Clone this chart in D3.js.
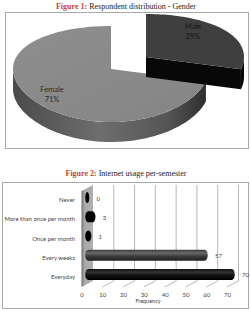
<!DOCTYPE html>
<html>
<head>
<meta charset="utf-8">
<style>
    body { margin: 0; background: #fff; }
    text.title { font-family: "Liberation Serif", "DejaVu Serif", serif; font-size: 8px; fill: #222; }
    text.title tspan.fig { fill: #c4482b; font-weight: bold; }
    text.pie_label { font-family: Lato, "Open Sans", sans-serif; font-size: 7.5px; text-anchor: middle; }
    text.cat { font-family: Lato, "Open Sans", sans-serif; font-size: 6px; fill: #444; text-anchor: end; }
    .x_axis text { font-family: Lato, "Open Sans", sans-serif; font-size: 6px; fill: #444; }
    text.val { font-family: Lato, "Open Sans", sans-serif; font-size: 6px; fill: #444; }
</style>
</head>
<body>
<svg width="251" height="313" id="chart"></svg>
<script src="https://cdn.jsdelivr.net/npm/d3@7"></script>
<script>
// figure 1 data
var genders = ["Male", "Female"];
var genderPct = [29, 71];

// figure 2 data
var usageCats = ["Never", "More than once per month", "Once per month", "Every weeks", "Everyday"];
var usageCounts = [0, 3, 1, 57, 70];
var freqTicks = [0, 10, 20, 30, 40, 50, 60, 70];

var svg = d3.select("#chart");
var defs = svg.append("defs");

function grad(id, x2, y2, stops) {
    var g = defs.append("linearGradient").attr("id", id)
        .attr("x1", 0).attr("y1", 0).attr("x2", x2).attr("y2", y2);
    stops.forEach(function(s) {
        g.append("stop").attr("offset", s[0]).attr("stop-color", s[1]);
    });
}
grad("femSide", 1, 0, [[0, "#4a4a4a"], [0.45, "#6e6e6e"], [0.8, "#555"], [1, "#2e2e2e"]]);
grad("femTop", 1, 1, [[0, "#8e8e8e"], [1, "#858585"]]);
grad("wall", 1, 0, [[0, "#6e6e6e"], [0.25, "#a8a8a8"], [1, "#b0b0b0"]]);
grad("cylGray", 0, 1, [[0, "#3a3a3a"], [0.3, "#6a6a6a"], [0.6, "#3c3c3c"], [1, "#202020"]]);
grad("cylBlack", 0, 1, [[0, "#111"], [0.3, "#333"], [0.6, "#111"], [1, "#000"]]);

// ---------- Figure 1 : 3D pie ----------
svg.append("text").attr("class", "title").attr("x", 126).attr("y", 9)
    .attr("text-anchor", "middle")
    .call(function(t) {
        t.append("tspan").attr("class", "fig").text("Figure 1:");
        t.append("tspan").text(" Respondent distribution - Gender");
    });

svg.append("rect").attr("x", 5.5).attr("y", 12.5).attr("width", 243).attr("height", 136)
    .attr("fill", "none").attr("stroke", "#a8a8a8");

var pcx = 111, pcy = 69, rx = 98, ryB = 43, ryF = 53, depth = 20, explode = [35, -12];

// point on the tilted top ellipse (a little bigger toward the viewer)
function pt(cx, cy, a, dz) {
    var ry = ryB + (ryF - ryB) * (1 - Math.cos(a)) / 2;
    return [cx + rx * Math.sin(a), cy - ry * Math.cos(a) + (dz || 0)];
}
function arcPts(cx, cy, a0, a1, dz) {
    var n = Math.max(2, Math.ceil(Math.abs(a1 - a0) / 0.03)), out = [];
    for (var i = 0; i <= n; i++) out.push(pt(cx, cy, a0 + (a1 - a0) * i / n, dz));
    return out;
}
var line = d3.line();

var slices = d3.pie().sort(null)(genderPct);
var pieG = svg.append("g");
var sliceFill = ["#3f3f3f", "url(#femTop)"];
var sideFill = ["#080808", "url(#femSide)"];

// female first, exploded male on top
[1, 0].forEach(function(i) {
    var s = slices[i];
    var off = i === 0 ? explode : [0, 0];
    var cx = pcx + off[0], cy = pcy + off[1];
    var g = pieG.append("g");
    // outer side, only the front half shows
    var a0 = Math.max(s.startAngle, Math.PI / 2), a1 = Math.min(s.endAngle, 3 * Math.PI / 2);
    if (a1 > a0) {
        var top = arcPts(cx, cy, a0, a1, 0);
        var bot = arcPts(cx, cy, a1, a0, depth);
        g.append("path").attr("d", line(top.concat(bot)) + "Z").attr("fill", sideFill[i]);
    }
    // cut face at the end angle is visible for the male slice
    if (i === 0) {
        var e = pt(cx, cy, s.endAngle, 0);
        g.append("path")
            .attr("d", line([[cx, cy], e, [e[0], e[1] + depth], [cx, cy + depth]]) + "Z")
            .attr("fill", sideFill[i]);
    }
    g.append("path")
        .attr("d", line([[cx, cy]].concat(arcPts(cx, cy, s.startAngle, s.endAngle, 0))) + "Z")
        .attr("fill", sliceFill[i]);
});

var pieLabelPos = [[193, 29], [52, 92]];
genders.forEach(function(name, i) {
    var t = svg.append("text").attr("class", "pie_label")
        .attr("x", pieLabelPos[i][0]).attr("y", pieLabelPos[i][1])
        .attr("fill", i === 0 ? "#151515" : "#2a2a2a");
    t.append("tspan").attr("x", pieLabelPos[i][0]).text(name);
    t.append("tspan").attr("x", pieLabelPos[i][0]).attr("dy", 9.5).text(genderPct[i] + "%");
});

// ---------- Figure 2 : 3D bar chart ----------
svg.append("text").attr("class", "title").attr("x", 126).attr("y", 176)
    .attr("text-anchor", "middle")
    .call(function(t) {
        t.append("tspan").attr("class", "fig").text("Figure 2:");
        t.append("tspan").text(" Internet usage per-semester");
    });

svg.append("rect").attr("x", 2.5).attr("y", 182.5).attr("width", 246).attr("height", 126)
    .attr("fill", "none").attr("stroke", "#a8a8a8");

var x = d3.scaleLinear().domain([0, 70]).range([81.5, 227]);
var y = d3.scaleBand().domain(usageCats).range([191, 287]);
var dx = 11.5, dy = -6;
var floorY = y.range()[1], topY = y.range()[0];

// side wall
svg.append("path")
    .attr("d", line([[x(0), floorY], [x(0) + dx, floorY + dy], [x(0) + dx, topY + dy], [x(0), topY]]) + "Z")
    .attr("fill", "url(#wall)");

// back grid lines and floor diagonals
var grid = svg.append("g").attr("stroke", "#a5a5a5").attr("stroke-width", 0.8);
freqTicks.slice(1).forEach(function(v) {
    grid.append("line")
        .attr("x1", x(v) + dx).attr("x2", x(v) + dx)
        .attr("y1", topY + dy).attr("y2", floorY + dy);
    grid.append("line")
        .attr("x1", x(v)).attr("y1", floorY)
        .attr("x2", x(v) + dx).attr("y2", floorY + dy);
});

// cylinders
var barFill = ["#000", "#000", "#000", "url(#cylGray)", "url(#cylBlack)"];
var bh = 11;
var bars = svg.append("g");
usageCats.forEach(function(c, i) {
    var v = usageCounts[i];
    var cy = y(c) + y.bandwidth() / 2 + dy / 2;
    var x0 = x(0) + dx / 2 - 2, x1 = x(v) + dx / 2 + 2;
    var w = x1 - x0;
    bars.append("rect")
        .attr("x", x0).attr("y", cy - bh / 2)
        .attr("width", w).attr("height", bh)
        .attr("rx", Math.min(3, w / 2)).attr("ry", bh / 2)
        .attr("fill", barFill[i]);
    svg.append("text").attr("class", "val")
        .attr("x", x(v) + 15).attr("y", cy + 1.5)
        .attr("dominant-baseline", "middle")
        .text(v);
});

// category labels
svg.append("g").selectAll("text")
    .data(usageCats)
    .enter().append("text")
    .attr("class", "cat")
    .attr("x", 75)
    .attr("y", function(d) { return y(d) + y.bandwidth() / 2; })
    .attr("dominant-baseline", "middle")
    .text(function(d) { return d; });

// x axis (no domain line in the picture)
var xAxis = svg.append("g").attr("class", "x_axis")
    .attr("color", "#444")
    .attr("transform", "translate(0," + floorY + ")")
    .call(d3.axisBottom(x).tickValues(freqTicks).tickSize(0).tickPadding(6));
xAxis.select(".domain").remove();

svg.append("text").attr("class", "val")
    .attr("x", 148).attr("y", 303).attr("text-anchor", "middle")
    .style("font-size", "5.5px")
    .text("Frequency");
</script>
</body>
</html>
